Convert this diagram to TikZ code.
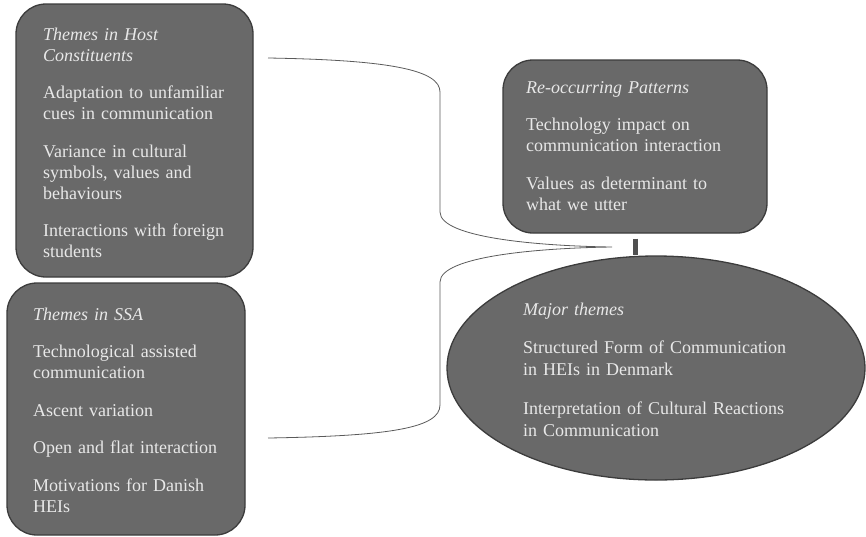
\documentclass[tikz,border=0pt]{standalone}
\usepackage{fontspec}
\setmainfont{Liberation Serif}
\usetikzlibrary{shapes.geometric}
\definecolor{boxfill}{HTML}{696969}
\definecolor{boxedge}{HTML}{3C3C3C}
\definecolor{boxtext}{HTML}{E8E8E8}
\definecolor{bracecol}{HTML}{5A5A5A}
\newcommand{\pg}{\\[16.5pt]}
\begin{document}
\begin{tikzpicture}[x=1pt,y=-1pt,
  box/.style={draw=boxedge,line width=1.3pt,fill=boxfill,rounded corners=30pt,inner sep=0pt},
  oval/.style={draw=boxedge,line width=1.3pt,fill=boxfill,ellipse,inner sep=0pt},
  txt/.style={anchor=base west,inner sep=0pt,text=boxtext,align=left,text width=#1,
    font=\fontsize{18}{21}\selectfont},
  txt/.default=230pt,
  bracel/.style={draw=bracecol,line width=0.8pt},
  bar/.style={draw=boxedge!90,line width=5pt}]
\useasboundingbox (0,0) rectangle (866,536);
% boxes
\node[box,minimum width=237pt,minimum height=273pt] (host) at (134.5,140.5) {};
\node[box,minimum width=238pt,minimum height=252pt] (ssa) at (126,409) {};
\node[box,minimum width=264pt,minimum height=173pt] (recur) at (635,146.5) {};
\node[oval,minimum width=418pt,minimum height=224pt] (major) at (656,368) {};
% texts
\node[txt=205pt] (hosttext) at (43,40) {\textit{Themes in Host}\\\textit{Constituents}\pg
Adaptation to unfamiliar\\cues in communication\pg
Variance in cultural\\symbols, values and\\behaviours\pg
Interactions with foreign\\students};
\node[txt=205pt] (ssatext) at (33,320) {\textit{Themes in SSA}\pg
Technological assisted\\communication\pg
Ascent variation\pg
Open and flat interaction\pg
Motivations for Danish\\HEIs};
\node[txt=235pt] (recurtext) at (526,93) {\textit{Re-occurring Patterns}\pg
Technology impact on\\communication interaction\pg
Values as determinant to\\what we utter};
\node[txt=290pt,font=\fontsize{18}{22}\selectfont] (majortext) at (523,315) {\textit{Major themes}\pg
Structured Form of Communication\\in HEIs in Denmark\pg
Interpretation of Cultural Reactions\\in Communication};
% brace
\coordinate (btop) at (268,58);
\coordinate (btip) at (612,247);
\coordinate (bbot) at (268,438);
\draw[bracel] (btop) .. controls (390,60) and (440,70) .. (440,92)
  -- (440,212) .. controls (440,238) and (540,246) .. (btip)
  .. controls (540,248) and (440,256) .. (440,282)
  -- (440,405) .. controls (440,428) and (390,436) .. (bbot);
% connector
\draw[bar] ([yshift=-5pt]recur.south) -- (recur.south |- major.north);
\end{tikzpicture}
\end{document}
